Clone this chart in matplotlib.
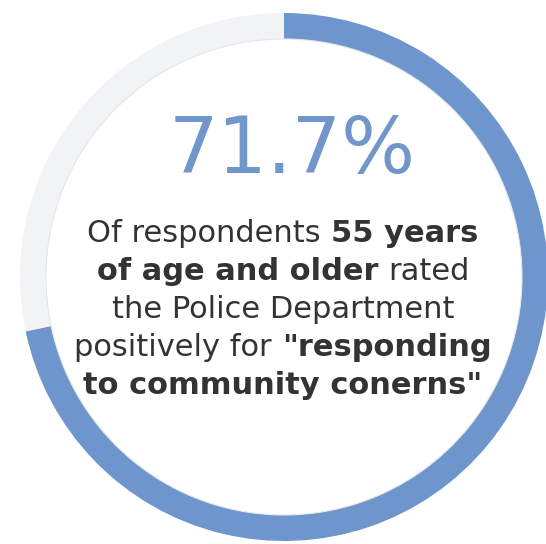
import matplotlib.pyplot as plt

# data
shares = [71.7, 28.3]
ring_colors = ['#6f96cc', '#f2f3f5']
headline = '71.7%'
# each line: list of (words, weight), pieces are joined by one space
lines = [
    [('Of respondents', 'normal'), ('55 years', 'bold')],
    [('of age and older', 'bold'), ('rated', 'normal')],
    [('the Police Department', 'normal')],
    [('positively for', 'normal'), ('"responding', 'bold')],
    [('to community conerns"', 'bold')],
]

W, H = 546, 544
font = 'DejaVu Sans'

fig = plt.figure(figsize=(W / 100, H / 100), dpi=100)
ax = fig.add_axes([0, 0, 1, 1])

# ring
ax.pie(shares, colors=ring_colors, startangle=90, counterclock=False,
       radius=264, center=(284, H - 277),
       wedgeprops=dict(width=26, linewidth=0))
# faint line on the inner edge of the ring
ax.add_patch(plt.Circle((284, H - 277), 238, fill=False, ec='#e4e6ea', lw=0.8))
ax.set_xlim(0, W)
ax.set_ylim(0, H)
ax.axis('off')

# big number
ax.text(292, H - 173, headline, ha='center', va='baseline',
        fontsize=56, color='#7196cc', family=font)

# body text, mixed weights, centred per line
renderer = fig.canvas.get_renderer()
size = 22
txt_color = '#333333'


def width_of(s, weight):
    t = ax.text(0, 0, s, fontsize=size, fontweight=weight, family=font)
    w = t.get_window_extent(renderer).width
    t.remove()
    return w


baselines = [242, 280, 318, 356, 394]
cx = 283
for parts, yb in zip(lines, baselines):
    widths = [width_of(s, wt) for s, wt in parts]
    gaps = [width_of('a a', wt) - width_of('aa', wt) for s, wt in parts[1:]]
    total = sum(widths) + sum(gaps)
    x = cx - total / 2
    for i, (s, wt) in enumerate(parts):
        if i > 0:
            x += gaps[i - 1]
        ax.text(x, H - yb, s, ha='left', va='baseline', fontsize=size,
                fontweight=wt, color=txt_color, family=font)
        x += widths[i]

fig.savefig('out.png', dpi=100)
